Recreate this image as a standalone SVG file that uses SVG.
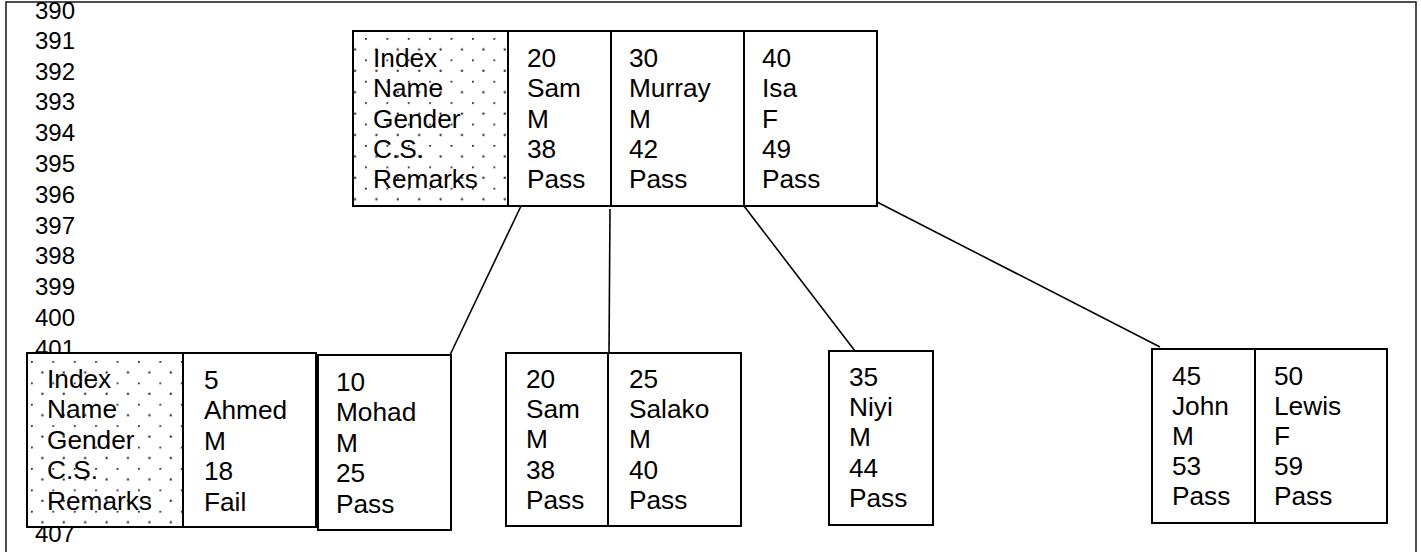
<svg xmlns="http://www.w3.org/2000/svg" width="1421" height="552" viewBox="0 0 1421 552">
  <style>
    .frame { fill: none; stroke: #222; stroke-width: 1.6; }
    .box { fill: #fff; stroke: #000; stroke-width: 2; }
    .div { stroke: #000; stroke-width: 2; }
    .link { stroke: #000; stroke-width: 1.6; fill: none; }
    text { font-family: "Liberation Sans", Arial, sans-serif; font-size: 25px; fill: #000; }
    .num { font-size: 24px; }
  </style>
  <defs>
    <!-- staggered dot fill for the field-name column -->
    <pattern id="dotsTop" patternUnits="userSpaceOnUse" x="365" y="38" width="21.4" height="21.4">
      <rect width="21.4" height="21.4" fill="#fff"/>
      <circle cx="0.7" cy="0.7" r="1.2" fill="#333"/>
      <circle cx="11.4" cy="11.4" r="1.2" fill="#333"/>
    </pattern>
    <pattern id="dotsLow" patternUnits="userSpaceOnUse" x="31" y="361" width="21.4" height="21.4">
      <rect width="21.4" height="21.4" fill="#fff"/>
      <circle cx="0.7" cy="0.7" r="1.2" fill="#333"/>
      <circle cx="11.4" cy="11.4" r="1.2" fill="#333"/>
    </pattern>
  </defs>

  <rect class="frame" x="6" y="2" width="1410" height="560"/>

  <!-- line numbers -->
  <g id="line-numbers">
    <text class="num" x="35" y="19">390</text>
    <text class="num" x="35" y="49">391</text>
    <text class="num" x="35" y="80">392</text>
    <text class="num" x="35" y="110">393</text>
    <text class="num" x="35" y="141">394</text>
    <text class="num" x="35" y="172">395</text>
    <text class="num" x="35" y="203">396</text>
    <text class="num" x="35" y="234">397</text>
    <text class="num" x="35" y="264">398</text>
    <text class="num" x="35" y="295">399</text>
    <text class="num" x="35" y="326">400</text>
    <text class="num" x="35" y="357">401</text>
    <text class="num" x="35" y="542">407</text>
  </g>

  <!-- connectors from the root node to its children -->
  <g id="connectors">
    <line class="link" x1="521" y1="206" x2="450" y2="355"/>
    <line class="link" x1="610" y1="209" x2="609" y2="353"/>
    <line class="link" x1="744" y1="206" x2="855" y2="351"/>
    <line class="link" x1="877" y1="202" x2="1160" y2="347"/>
  </g>

  <!-- root node -->
  <g id="root">
    <rect class="box" x="353" y="31" width="524" height="175"/>
    <rect x="354" y="32" width="154" height="173" fill="url(#dotsTop)"/>
    <line class="div" x1="508" y1="31" x2="508" y2="206"/>
    <line class="div" x1="611" y1="31" x2="611" y2="206"/>
    <line class="div" x1="744" y1="31" x2="744" y2="206"/>
    <text transform="translate(373,67) scale(1.05 1)"><tspan x="0">Index</tspan><tspan x="0" dy="30.3">Name</tspan><tspan x="0" dy="30.3">Gender</tspan><tspan x="0" dy="30.3">C.S.</tspan><tspan x="0" dy="30.3">Remarks</tspan></text>
    <text transform="translate(527,67) scale(1.05 1)"><tspan x="0">20</tspan><tspan x="0" dy="30.3">Sam</tspan><tspan x="0" dy="30.3">M</tspan><tspan x="0" dy="30.3">38</tspan><tspan x="0" dy="30.3">Pass</tspan></text>
    <text transform="translate(629,67) scale(1.05 1)"><tspan x="0">30</tspan><tspan x="0" dy="30.3">Murray</tspan><tspan x="0" dy="30.3">M</tspan><tspan x="0" dy="30.3">42</tspan><tspan x="0" dy="30.3">Pass</tspan></text>
    <text transform="translate(762,67) scale(1.05 1)"><tspan x="0">40</tspan><tspan x="0" dy="30.3">Isa</tspan><tspan x="0" dy="30.3">F</tspan><tspan x="0" dy="30.3">49</tspan><tspan x="0" dy="30.3">Pass</tspan></text>
  </g>

  <!-- leaf: 5, Ahmed -->
  <g id="leaf-5">
    <rect class="box" x="27" y="353" width="289" height="174"/>
    <rect x="28" y="354" width="154" height="172" fill="url(#dotsLow)"/>
    <line class="div" x1="183" y1="353" x2="183" y2="527"/>
    <text transform="translate(47,388) scale(1.05 1)"><tspan x="0">Index</tspan><tspan x="0" dy="30.4">Name</tspan><tspan x="0" dy="30.4">Gender</tspan><tspan x="0" dy="30.4">C.S.</tspan><tspan x="0" dy="30.4">Remarks</tspan></text>
    <text transform="translate(204,389) scale(1.05 1)"><tspan x="0">5</tspan><tspan x="0" dy="30.4">Ahmed</tspan><tspan x="0" dy="30.4">M</tspan><tspan x="0" dy="30.4">18</tspan><tspan x="0" dy="30.4">Fail</tspan></text>
  </g>

  <!-- leaf: 10, Mohad -->
  <g id="leaf-10">
    <rect class="box" x="318" y="355" width="133" height="175"/>
    <text transform="translate(336,391) scale(1.05 1)"><tspan x="0">10</tspan><tspan x="0" dy="30.4">Mohad</tspan><tspan x="0" dy="30.4">M</tspan><tspan x="0" dy="30.4">25</tspan><tspan x="0" dy="30.4">Pass</tspan></text>
  </g>

  <!-- leaf: 20, 25 -->
  <g id="leaf-20-25">
    <rect class="box" x="506" y="353" width="235" height="173"/>
    <line class="div" x1="608" y1="353" x2="608" y2="526"/>
    <text transform="translate(526,388) scale(1.05 1)"><tspan x="0">20</tspan><tspan x="0" dy="30.2">Sam</tspan><tspan x="0" dy="30.2">M</tspan><tspan x="0" dy="30.2">38</tspan><tspan x="0" dy="30.2">Pass</tspan></text>
    <text transform="translate(629,388) scale(1.05 1)"><tspan x="0">25</tspan><tspan x="0" dy="30.2">Salako</tspan><tspan x="0" dy="30.2">M</tspan><tspan x="0" dy="30.2">40</tspan><tspan x="0" dy="30.2">Pass</tspan></text>
  </g>

  <!-- leaf: 35, Niyi -->
  <g id="leaf-35">
    <rect class="box" x="829" y="351" width="104" height="174"/>
    <text transform="translate(849,386) scale(1.05 1)"><tspan x="0">35</tspan><tspan x="0" dy="30.2">Niyi</tspan><tspan x="0" dy="30.2">M</tspan><tspan x="0" dy="30.2">44</tspan><tspan x="0" dy="30.2">Pass</tspan></text>
  </g>

  <!-- leaf: 45, 50 -->
  <g id="leaf-45-50">
    <rect class="box" x="1152" y="349" width="235" height="174"/>
    <line class="div" x1="1255" y1="349" x2="1255" y2="523"/>
    <text transform="translate(1172,385) scale(1.05 1)"><tspan x="0">45</tspan><tspan x="0" dy="30">John</tspan><tspan x="0" dy="30">M</tspan><tspan x="0" dy="30">53</tspan><tspan x="0" dy="30">Pass</tspan></text>
    <text transform="translate(1274,385) scale(1.05 1)"><tspan x="0">50</tspan><tspan x="0" dy="30">Lewis</tspan><tspan x="0" dy="30">F</tspan><tspan x="0" dy="30">59</tspan><tspan x="0" dy="30">Pass</tspan></text>
  </g>
</svg>
